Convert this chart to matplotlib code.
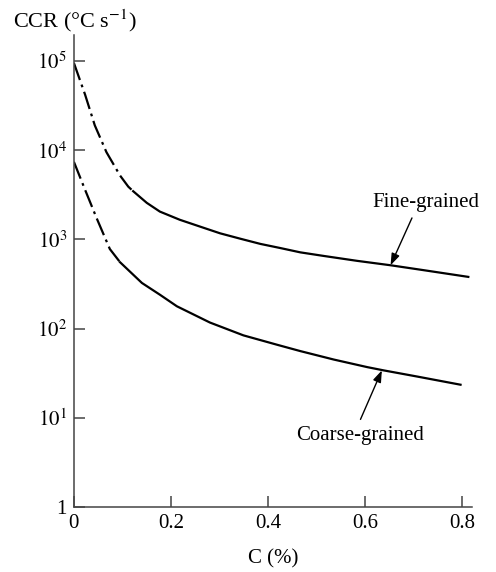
import numpy as np
import matplotlib
matplotlib.use("Agg")
import matplotlib.pyplot as plt

plt.rcParams['font.family'] = ['Liberation Serif', 'DejaVu Serif']
plt.rcParams['mathtext.fontset'] = 'stix'
plt.rcParams['lines.scale_dashes'] = False

# Fine-grained: dash-dot part and solid part
fine_x_dash = [0.0, 0.023, 0.043, 0.067, 0.095, 0.112, 0.122]
fine_y_dash = [95000, 42000, 19000, 9500, 5200, 3900, 3470]
fine_x = [0.122, 0.150, 0.177, 0.218, 0.260, 0.301, 0.342, 0.384, 0.425,
          0.466, 0.514, 0.583, 0.652, 0.720, 0.812]
fine_y = [3470, 2570, 2050, 1660, 1390, 1170, 1020, 890, 800,
          716, 653, 575, 513, 452, 380]

# Coarse-grained
coarse_x_dash = [0.0, 0.023, 0.047, 0.074, 0.095]
coarse_y_dash = [7400, 3600, 1720, 780, 555]
coarse_x = [0.095, 0.140, 0.177, 0.212, 0.280, 0.349, 0.418, 0.466,
            0.535, 0.604, 0.638, 0.707, 0.796]
coarse_y = [555, 325, 240, 178, 117, 84, 66, 56,
            45, 37, 34, 29, 23.5]

x_ticks = [0, 0.2, 0.4, 0.6, 0.8]
x_tick_labels = ['0', '0.2', '0.4', '0.6', '0.8']
y_ticks = [1, 10, 100, 1000, 10000, 100000]
y_tick_labels = ['1', '$10^1$', '$10^2$', '$10^3$', '$10^4$', '$10^5$']

fig = plt.figure(figsize=(4.96, 5.72), dpi=100)
ax = fig.add_axes([0.149, 0.1136, 0.803, 0.825])

dd = (0, (13, 3.5, 2, 3.5))
ax.plot(fine_x_dash, fine_y_dash, color='black', lw=1.6, linestyle=dd)
ax.plot(fine_x, fine_y, color='black', lw=1.6)
ax.plot(coarse_x_dash, coarse_y_dash, color='black', lw=1.6, linestyle=dd)
ax.plot(coarse_x, coarse_y, color='black', lw=1.6)

ax.set_yscale('log')
ax.set_xlim(0, 0.82)
ax.set_ylim(1, 1.95e5)
ax.set_xticks(x_ticks)
ax.set_xticklabels(x_tick_labels)
ax.set_yticks(y_ticks)
ax.set_yticklabels(y_tick_labels)
ax.minorticks_off()
ax.tick_params(direction='in', length=8, width=1.1, labelsize=15, pad=5, color='#444444')

for s in ['top', 'right']:
    ax.spines[s].set_visible(False)
for s in ['left', 'bottom']:
    ax.spines[s].set_color('#444444')
    ax.spines[s].set_linewidth(1.1)

arrow = dict(arrowstyle='-|>,head_length=0.7,head_width=0.25', color='black', lw=1.0, shrinkA=0, shrinkB=0)
ax.annotate('', xy=(0.652, 513), xytext=(0.696, 1740), arrowprops=arrow)
ax.text(0.724, 2570, 'Fine-grained', fontsize=15, ha='center', va='center')
ax.annotate('', xy=(0.634, 34), xytext=(0.59, 9.6), arrowprops=arrow)
ax.text(0.59, 6.3, 'Coarse-grained', fontsize=15, ha='center', va='center')

ax.set_xlabel('C (%)', fontsize=15, labelpad=12)
fig.text(13 / 496, 1 - 21 / 572, 'CCR (°C s$^{-1}$)', fontsize=16, ha='left', va='center')

fig.savefig('out.png', dpi=100)
